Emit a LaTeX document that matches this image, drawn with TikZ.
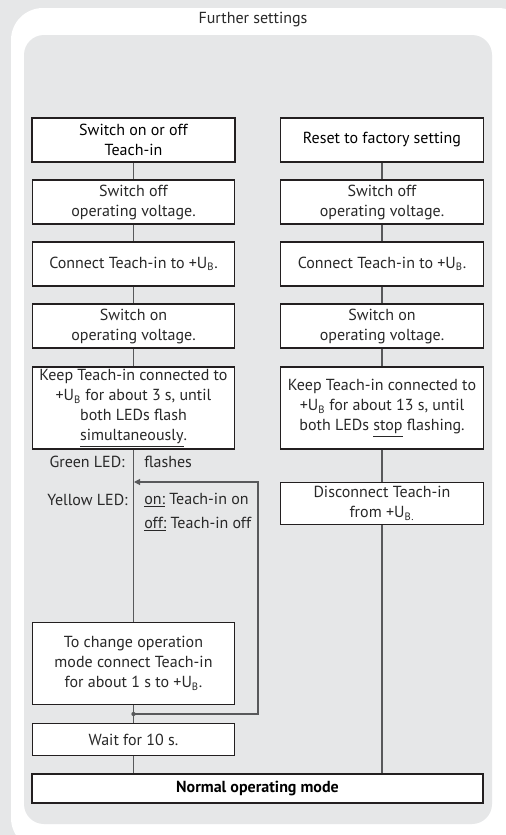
\documentclass[tikz,border=0pt]{standalone}
\usepackage{fontspec}
\setmainfont{PT Sans}
\usetikzlibrary{arrows.meta, positioning}
\definecolor{panelgray}{RGB}{230, 231, 232}
\definecolor{linegray}{RGB}{88, 89, 91}
\definecolor{boxblack}{RGB}{35, 31, 32}
\definecolor{textdark}{RGB}{40, 40, 40}
\newcommand{\UBplus}{+U\textsubscript{B}}
\tikzset{
  >=Stealth,
  link/.style={line width=0.8pt, linegray},
  looparrow/.style={-{Triangle[length=4.5pt, width=4.5pt]}, line width=0.8pt, linegray}
}

\begin{document}
\begin{tikzpicture}[x=0.75pt, y=-0.75pt,
    every node/.style={text=textdark, font=\fontsize{12}{15}\selectfont},
    stepbox/.style={rectangle, draw=boxblack, fill=white, line width=0.9pt, align=center, inner sep=0pt, minimum width=152pt, minimum height=33pt},
    headbox/.style={stepbox, line width=1.1pt, text=black},
    ledlabel/.style={inner sep=0pt}
]
    % Panel
    \useasboundingbox (0,0) rectangle (506,835);
    \fill[panelgray] (0,0) rectangle (506,835);
    \fill[white, rounded corners=24pt] (11,8) rectangle (530,850);
    \fill[panelgray, rounded corners=15pt] (24,35) rectangle (492,824);
    \node (title) at (253,20) {Further settings};

    % Left lane: Teach-in
    \node[headbox] (lhead) at (133.5,140) {Switch on or off\\Teach-in};
    \node[stepbox] (l1) at (133.5,202) {Switch off\\operating voltage.};
    \node[stepbox] (l2) at (133.5,264) {Connect Teach-in to \UBplus.};
    \node[stepbox] (l3) at (133.5,326) {Switch on\\operating voltage.};
    \node[stepbox, minimum height=61.5pt] (l4) at (133.5,408) {Keep Teach-in connected to\\\UBplus{} for about 3 s, until\\both LEDs flash\\\underline{simultaneously}.};
    \node[stepbox, minimum height=62pt] (l5) at (133.5,663.5) {To change operation\\mode connect Teach-in\\for about 1 s to \UBplus.};
    \node[stepbox, minimum height=23.5pt] (l6) at (133.5,739.5) {Wait for 10 s.};

    % LED states
    \node[ledlabel, anchor=east] (green) at (125,462) {Green LED:};
    \node[ledlabel, anchor=west] (flash) at (144,462) {flashes};
    \node[ledlabel, anchor=east] (yellow) at (128,500) {Yellow LED:};
    \node[ledlabel, anchor=west] (yon) at (144,500) {\underline{on:} Teach-in on};
    \node[ledlabel, anchor=west] (yoff) at (144,524) {\underline{off:} Teach-in off};

    % Right lane: factory reset
    \node[headbox] (rhead) at (382,140) {Reset to factory setting};
    \node[stepbox] (r1) at (382,202) {Switch off\\operating voltage.};
    \node[stepbox] (r2) at (382,264) {Connect Teach-in to \UBplus.};
    \node[stepbox] (r3) at (382,326) {Switch on\\operating voltage.};
    \node[stepbox, minimum height=61.5pt] (r4) at (382,408) {Keep Teach-in connected to\\\UBplus{} for about 13 s, until\\both LEDs \underline{stop} flashing.};
    \node[stepbox, minimum height=32pt] (r5) at (382,503.5) {Disconnect Teach-in\\from \UBplus\textsubscript{.}};

    % Final
    \node[headbox, minimum width=338pt, minimum height=21.75pt, font=\fontsize{12}{15}\selectfont\bfseries] (normal) at (257.5,788.5) {Normal operating mode};

    % Connectors
    \draw[link] (lhead) -- (l1);
    \draw[link] (l1) -- (l2);
    \draw[link] (l2) -- (l3);
    \draw[link] (l3) -- (l4);
    \draw[link] (l4) -- (l5);
    \draw[link] (l5) -- (l6);
    \draw[link] (l6.south) -- (l6.south |- normal.north);

    \draw[link] (rhead) -- (r1);
    \draw[link] (r1) -- (r2);
    \draw[link] (r2) -- (r3);
    \draw[link] (r3) -- (r4);
    \draw[link] (r4) -- (r5);
    \draw[link] (r5.south) -- (r5.south |- normal.north);

    % Loop back
    \coordinate (jn) at (133.5,714);
    \coordinate (loopcorner) at (258,714);
    \coordinate (loopin) at (134,482);
    \fill[linegray] (jn) circle (1.6pt);
    \draw[looparrow] (jn) -- (loopcorner) |- (loopin);
\end{tikzpicture}
\end{document}
